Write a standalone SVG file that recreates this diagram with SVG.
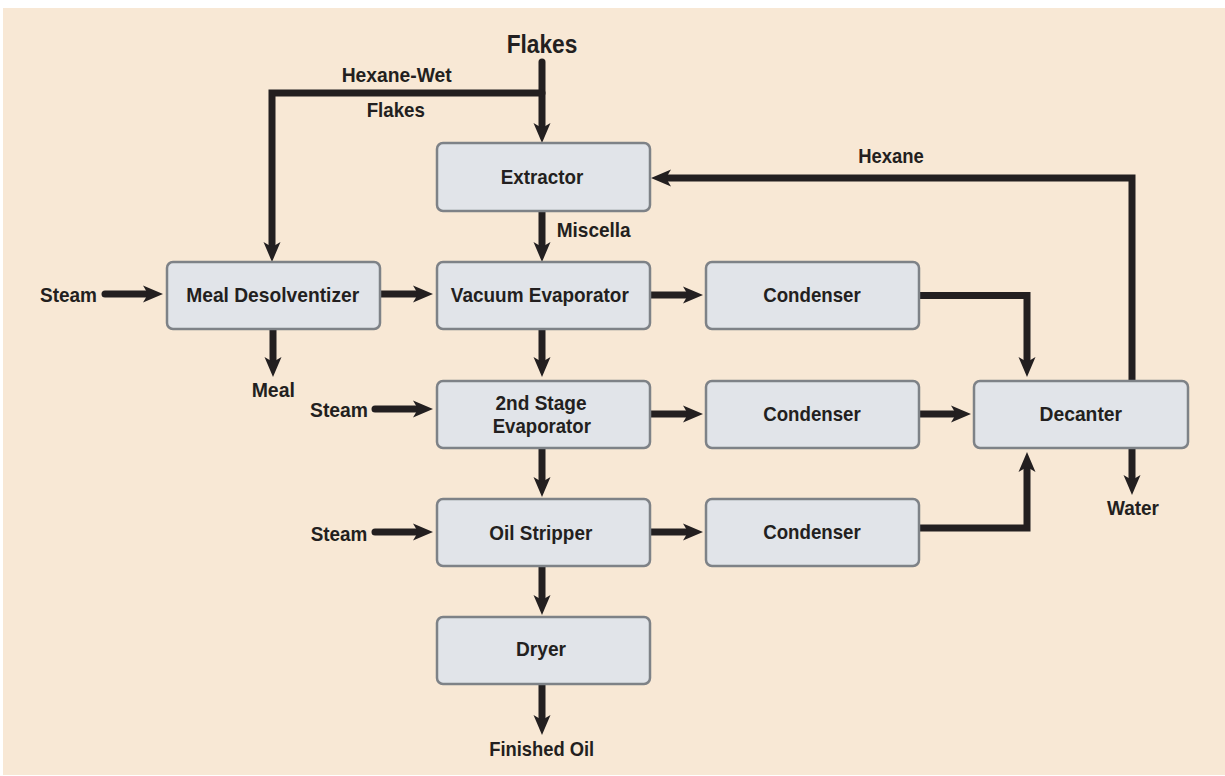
<svg xmlns="http://www.w3.org/2000/svg" width="1225" height="776" viewBox="0 0 1225 776">
<style>
.box{fill:#E1E4E9;stroke:#7E8287;stroke-width:2.5}
.t{font-family:"Liberation Sans",Arial,sans-serif;font-weight:bold;font-size:21px;fill:#231F20}
.m{text-anchor:middle}
.e{text-anchor:end}
.c{fill:none;stroke:#231F20;stroke-width:7;stroke-linecap:round;stroke-linejoin:miter;marker-end:url(#ah)}
</style>
<defs>
<marker id="ah" markerUnits="userSpaceOnUse" markerWidth="24" markerHeight="20" refX="8" refY="10" orient="auto" overflow="visible">
<path d="M0,1.5 L20,10 L0,18.5 L5,10 Z" fill="#231F20"/>
</marker>
</defs>
<rect x="3" y="8" width="1222" height="767" fill="#F8E8D5"/>
<g id="connectors">
<path class="c" d="M542,62 V131"/>
<path class="c" d="M542,93 H272 V250"/>
<path class="c" d="M1132,386 V178 H663"/>
<path class="c" d="M542,205 V250"/>
<path class="c" d="M105,294 H151"/>
<path class="c" d="M375,294 H421"/>
<path class="c" d="M273,325 V365"/>
<path class="c" d="M644,295 H691"/>
<path class="c" d="M915,295.5 H1027 V365"/>
<path class="c" d="M542,323 V365"/>
<path class="c" d="M375,409 H421"/>
<path class="c" d="M644,414 H691"/>
<path class="c" d="M913,414 H959"/>
<path class="c" d="M913,528 H1027 V464"/>
<path class="c" d="M1132,442 V483"/>
<path class="c" d="M542,442 V485"/>
<path class="c" d="M375,532 H421"/>
<path class="c" d="M644,532 H691"/>
<path class="c" d="M542,562 V603"/>
<path class="c" d="M542,682 V723"/>
</g>
<g id="extractor"><rect class="box" x="437" y="143" width="213" height="68" rx="6"/><text class="t m" x="542" y="184.3" textLength="82.6" lengthAdjust="spacingAndGlyphs">Extractor</text></g>
<g id="meal-desolventizer"><rect class="box" x="167" y="262" width="213" height="67" rx="6"/><text class="t m" x="272.7" y="301.7" textLength="173" lengthAdjust="spacingAndGlyphs">Meal Desolventizer</text></g>
<g id="vacuum-evaporator"><rect class="box" x="437" y="262" width="213" height="67" rx="6"/><text class="t m" x="539.8" y="301.7" textLength="178" lengthAdjust="spacingAndGlyphs">Vacuum Evaporator</text></g>
<g id="condenser1"><rect class="box" x="706" y="262" width="213" height="67" rx="6"/><text class="t m" x="812" y="302.3" textLength="97.6" lengthAdjust="spacingAndGlyphs">Condenser</text></g>
<g id="second-stage-evaporator"><rect class="box" x="437" y="381" width="213" height="67" rx="6"/><text class="t m" x="541" y="410" textLength="91" lengthAdjust="spacingAndGlyphs">2nd Stage</text><text class="t m" x="541.8" y="432.7" textLength="98.3" lengthAdjust="spacingAndGlyphs">Evaporator</text></g>
<g id="condenser2"><rect class="box" x="706" y="381" width="213" height="67" rx="6"/><text class="t m" x="812" y="420.7" textLength="97.6" lengthAdjust="spacingAndGlyphs">Condenser</text></g>
<g id="decanter"><rect class="box" x="974" y="381" width="214" height="67" rx="6"/><text class="t m" x="1080.8" y="420.7" textLength="82.5" lengthAdjust="spacingAndGlyphs">Decanter</text></g>
<g id="oil-stripper"><rect class="box" x="437" y="499" width="213" height="67" rx="6"/><text class="t m" x="540.8" y="540" textLength="103" lengthAdjust="spacingAndGlyphs">Oil Stripper</text></g>
<g id="condenser3"><rect class="box" x="706" y="499" width="213" height="67" rx="6"/><text class="t m" x="812" y="539.3" textLength="97.6" lengthAdjust="spacingAndGlyphs">Condenser</text></g>
<g id="dryer"><rect class="box" x="437" y="617" width="213" height="67" rx="6"/><text class="t m" x="541" y="656" textLength="50" lengthAdjust="spacingAndGlyphs">Dryer</text></g>
<g id="labels">
<text class="t m" x="542" y="53.3" style="font-size:25px" textLength="70.7" lengthAdjust="spacingAndGlyphs">Flakes</text>
<text class="t m" x="396.7" y="81.7" textLength="110" lengthAdjust="spacingAndGlyphs">Hexane-Wet</text>
<text class="t m" x="395.8" y="116.7" textLength="58.3" lengthAdjust="spacingAndGlyphs">Flakes</text>
<text class="t m" x="891" y="162.7" textLength="65.7" lengthAdjust="spacingAndGlyphs">Hexane</text>
<text class="t" x="556.7" y="236.7" textLength="74" lengthAdjust="spacingAndGlyphs">Miscella</text>
<text class="t" x="40" y="301.7" textLength="57" lengthAdjust="spacingAndGlyphs">Steam</text>
<text class="t m" x="273.3" y="396.7" textLength="43.3" lengthAdjust="spacingAndGlyphs">Meal</text>
<text class="t" x="310" y="416.7" textLength="58" lengthAdjust="spacingAndGlyphs">Steam</text>
<text class="t m" x="1133" y="515" textLength="52" lengthAdjust="spacingAndGlyphs">Water</text>
<text class="t" x="310.7" y="540.7" textLength="56.6" lengthAdjust="spacingAndGlyphs">Steam</text>
<text class="t m" x="541.7" y="756" textLength="105" lengthAdjust="spacingAndGlyphs">Finished Oil</text>
</g>
</svg>
